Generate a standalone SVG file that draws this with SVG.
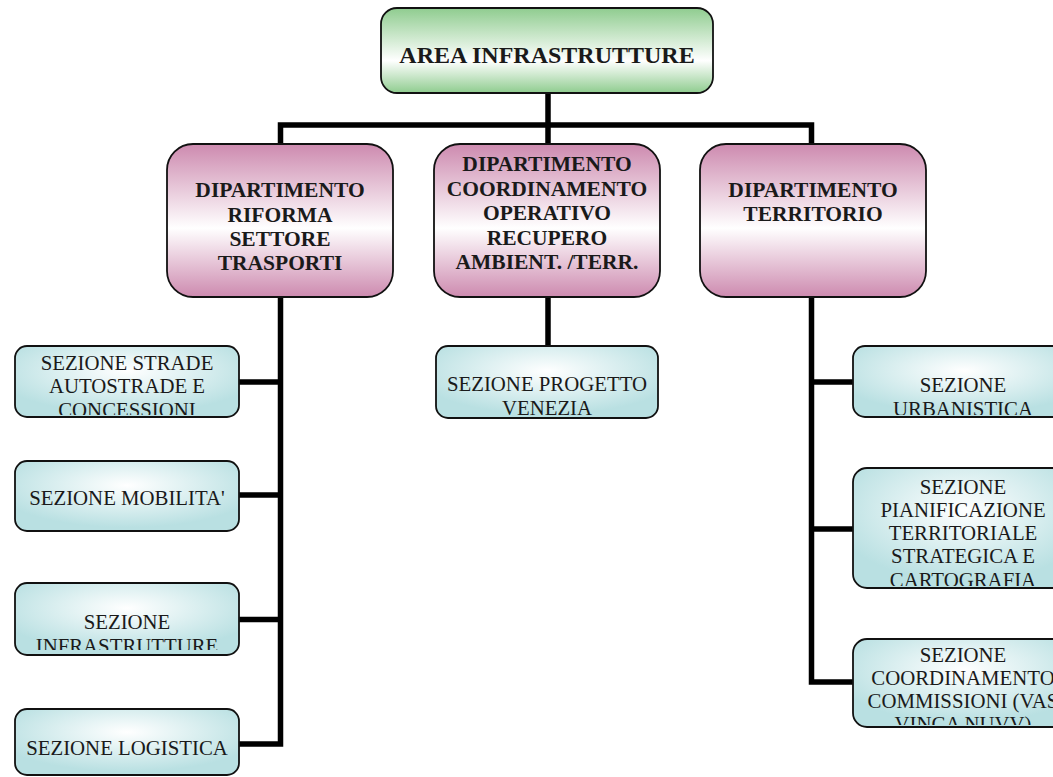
<svg xmlns="http://www.w3.org/2000/svg" width="1053" height="777" viewBox="0 0 1053 777">
<style>
.box{stroke:#111;stroke-width:1.8}
.t{font-family:"Liberation Serif","Times New Roman",serif;fill:#1a1a1a;text-anchor:middle}
.b{font-weight:bold}
.title{font-size:24px}
.dep{font-size:21.5px}
.sec{font-size:20.8px}
.conn{fill:none;stroke:#000;stroke-width:5.5;stroke-linejoin:miter}
</style>
<defs>
<linearGradient id="gGreen" x1="0" y1="0" x2="0" y2="1">
<stop offset="0" stop-color="#8fcc8f"/>
<stop offset="0.62" stop-color="#ffffff"/>
<stop offset="1" stop-color="#8fcc8f"/>
</linearGradient>
<linearGradient id="gPink" x1="0" y1="0" x2="0" y2="1">
<stop offset="0" stop-color="#cd8aaf"/>
<stop offset="0.55" stop-color="#ffffff"/>
<stop offset="1" stop-color="#cd8aaf"/>
</linearGradient>
<radialGradient id="gBlue" cx="0.5" cy="0.35" r="0.6">
<stop offset="0" stop-color="#ffffff"/>
<stop offset="1" stop-color="#b9e0e2"/>
</radialGradient>
<clipPath id="cL1"><rect x="16" y="347" width="222" height="68"/></clipPath>
<clipPath id="cL3"><rect x="16" y="584" width="222" height="66"/></clipPath>
<clipPath id="cM1"><rect x="437" y="347" width="220" height="68"/></clipPath>
<clipPath id="cR1"><rect x="854" y="347" width="220" height="68"/></clipPath>
<clipPath id="cR2"><rect x="854" y="469" width="220" height="117"/></clipPath>
<clipPath id="cR3"><rect x="854" y="640" width="220" height="85"/></clipPath>
</defs>
<rect width="1053" height="777" fill="#fff"/>
<g id="connectors">
<path class="conn" d="M239 744 H280.5 V125 H811.5 V682 H853"/>
<path class="conn" d="M239 382 H280.5 M239 495 H280.5 M239 619.5 H280.5"/>
<path class="conn" d="M548 93 V144 M548 297 V346"/>
<path class="conn" d="M811.5 382 H853 M811.5 529 H853"/>
</g>
<g id="area">
<rect class="box" x="381" y="8" width="332" height="85" rx="16" fill="url(#gGreen)"/>
<text class="t b title" x="547" y="63">AREA INFRASTRUTTURE</text>
</g>
<g id="dip-trasporti">
<rect class="box" x="167" y="144" width="226" height="153" rx="26" fill="url(#gPink)"/>
<text class="t b dep" x="280" y="197">DIPARTIMENTO</text>
<text class="t b dep" x="280" y="222">RIFORMA</text>
<text class="t b dep" x="280" y="246">SETTORE</text>
<text class="t b dep" x="280" y="270">TRASPORTI</text>
</g>
<g id="dip-coordinamento">
<rect class="box" x="434" y="144" width="226" height="153" rx="26" fill="url(#gPink)"/>
<text class="t b dep" x="547" y="171">DIPARTIMENTO</text>
<text class="t b dep" x="547" y="196">COORDINAMENTO</text>
<text class="t b dep" x="547" y="220">OPERATIVO</text>
<text class="t b dep" x="547" y="245">RECUPERO</text>
<text class="t b dep" x="547" y="269">AMBIENT. /TERR.</text>
</g>
<g id="dip-territorio">
<rect class="box" x="700" y="144" width="226" height="153" rx="26" fill="url(#gPink)"/>
<text class="t b dep" x="813" y="197">DIPARTIMENTO</text>
<text class="t b dep" x="813" y="221">TERRITORIO</text>
</g>
<g id="sez-strade">
<rect class="box" x="15" y="346" width="224" height="71" rx="12" fill="url(#gBlue)"/>
<g clip-path="url(#cL1)">
<text class="t sec" x="127" y="370">SEZIONE STRADE</text>
<text class="t sec" x="127" y="393">AUTOSTRADE E</text>
<text class="t sec" x="127" y="417">CONCESSIONI</text>
</g>
</g>
<g id="sez-mobilita">
<rect class="box" x="15" y="461" width="224" height="70" rx="12" fill="url(#gBlue)"/>
<text class="t sec" x="127" y="505">SEZIONE MOBILITA'</text>
</g>
<g id="sez-infrastrutture">
<rect class="box" x="15" y="583" width="224" height="72" rx="12" fill="url(#gBlue)"/>
<g clip-path="url(#cL3)">
<text class="t sec" x="127" y="629">SEZIONE</text>
<text class="t sec" x="127" y="653">INFRASTRUTTURE</text>
</g>
</g>
<g id="sez-logistica">
<rect class="box" x="15" y="709" width="224" height="66" rx="12" fill="url(#gBlue)"/>
<text class="t sec" x="127" y="755">SEZIONE LOGISTICA</text>
</g>
<g id="sez-venezia">
<rect class="box" x="436" y="346" width="222" height="72" rx="12" fill="url(#gBlue)"/>
<g clip-path="url(#cM1)">
<text class="t sec" x="547" y="391">SEZIONE PROGETTO</text>
<text class="t sec" x="547" y="415">VENEZIA</text>
</g>
</g>
<g id="sez-urbanistica">
<rect class="box" x="853" y="346" width="222" height="71" rx="12" fill="url(#gBlue)"/>
<g clip-path="url(#cR1)">
<text class="t sec" x="963" y="392">SEZIONE</text>
<text class="t sec" x="963" y="416">URBANISTICA</text>
</g>
</g>
<g id="sez-pianificazione">
<rect class="box" x="853" y="468" width="222" height="120" rx="14" fill="url(#gBlue)"/>
<g clip-path="url(#cR2)">
<text class="t sec" x="963" y="494">SEZIONE</text>
<text class="t sec" x="963" y="517">PIANIFICAZIONE</text>
<text class="t sec" x="963" y="540">TERRITORIALE</text>
<text class="t sec" x="963" y="563">STRATEGICA E</text>
<text class="t sec" x="963" y="587">CARTOGRAFIA</text>
</g>
</g>
<g id="sez-coordinamento">
<rect class="box" x="853" y="639" width="222" height="88" rx="14" fill="url(#gBlue)"/>
<g clip-path="url(#cR3)">
<text class="t sec" x="963" y="662">SEZIONE</text>
<text class="t sec" x="963" y="685">COORDINAMENTO</text>
<text class="t sec" x="963" y="708">COMMISSIONI (VAS</text>
<text class="t sec" x="963" y="731">VINCA NUVV)</text>
</g>
</g>
</svg>
